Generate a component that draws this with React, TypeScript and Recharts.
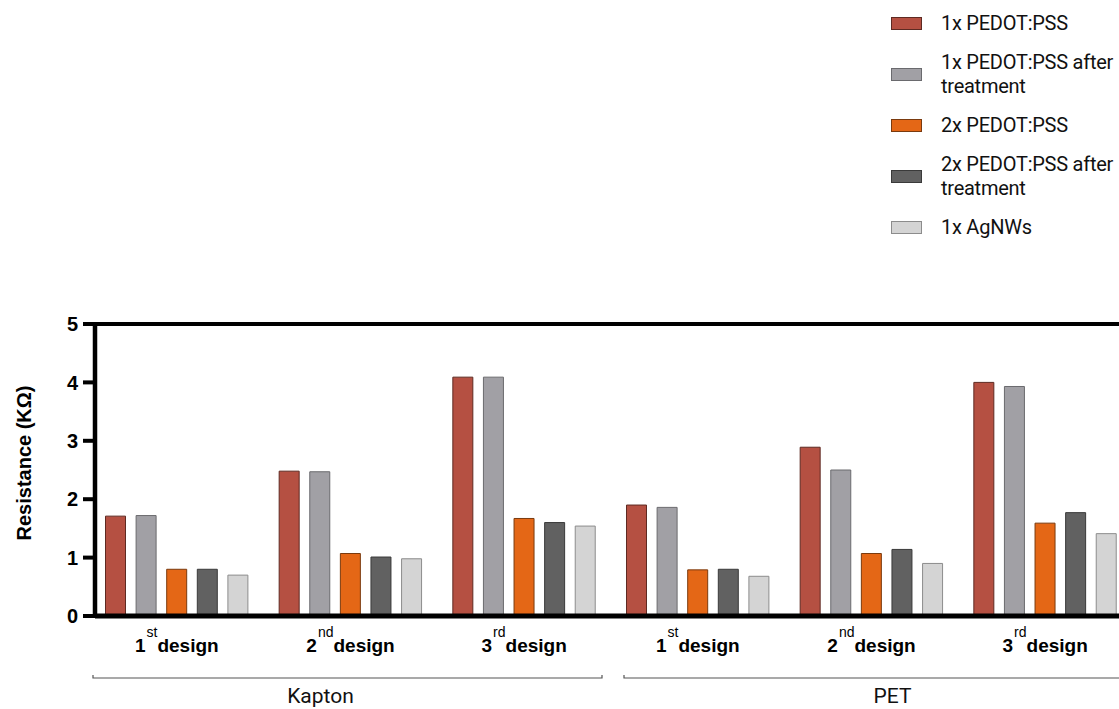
import React from 'react';
import { BarChart, Bar, XAxis, YAxis, ReferenceLine, Legend, Label } from 'recharts';

// Sample categories
const designNumbers = ['1', '2', '3', '1', '2', '3'];
const designSuffixes = ['st', 'nd', 'rd', 'st', 'nd', 'rd'];
const substrates = ['Kapton', 'Kapton', 'Kapton', 'PET', 'PET', 'PET'];

// Resistance values (kΩ) per series, one value per category
const pedot1x = [1.71, 2.48, 4.09, 1.9, 2.89, 4.0];
const pedot1xTreated = [1.72, 2.47, 4.09, 1.86, 2.5, 3.93];
const pedot2x = [0.8, 1.07, 1.67, 0.79, 1.07, 1.59];
const pedot2xTreated = [0.8, 1.01, 1.6, 0.8, 1.14, 1.77];
const agnws = [0.7, 0.98, 1.54, 0.68, 0.9, 1.41];

const seriesNames = [
  '1x PEDOT:PSS',
  '1x PEDOT:PSS after treatment',
  '2x PEDOT:PSS',
  '2x PEDOT:PSS after treatment',
  '1x AgNWs',
];
const seriesValues = [pedot1x, pedot1xTreated, pedot2x, pedot2xTreated, agnws];
const seriesFills = ['#B55042', '#A1A0A5', '#E46716', '#616161', '#D4D4D4'];
const seriesStrokes = ['#5E2A22', '#6A6A6E', '#7A3A0E', '#3A3A3A', '#8C8C8C'];

const yTicks = [0, 1, 2, 3, 4, 5];

const data = substrates.map((substrate, i) => {
  const row: Record<string, string | number> = {
    key: `${substrate}-${designNumbers[i]}`,
    substrate,
  };
  seriesValues.forEach((vals, s) => {
    row[`s${s}`] = vals[i];
  });
  return row;
});

const lightFont = "Roboto, 'Liberation Sans', sans-serif";
const boldFont = "'Liberation Sans', Arial, sans-serif";

function DesignTick(props: any) {
  const { x, y, payload } = props;
  const i = payload.index;
  return (
    <text
      x={x}
      y={y + 36}
      textAnchor="middle"
      fontFamily={boldFont}
      fontWeight="bold"
      fontSize={19}
      fill="#000"
    >
      <tspan>{designNumbers[i]}</tspan>
      <tspan fontSize={14} fontWeight="normal" dx={1} dy={-15}>
        {designSuffixes[i]}
      </tspan>
      <tspan dy={15}>design</tspan>
    </text>
  );
}

function SubstrateTick(props: any) {
  const { x, y, payload, visibleTicksCount } = props;
  const half = payload.offset ?? 0;
  const isFirst = payload.index === 0;
  const isLast = payload.index === (visibleTicksCount ?? 2) - 1;
  const left = x - half + (isFirst ? 3 : 13);
  const right = x + half - (isLast ? 0 : 9);
  const labelShift = isFirst ? -30 : 21;
  const by = y + 12;
  return (
    <g>
      <path
        d={`M${left},${by - 3}V${by}H${right}V${by - 3}`}
        fill="none"
        stroke="#555"
        strokeWidth={1.2}
      />
      <text
        x={x + labelShift}
        y={y + 37}
        textAnchor="middle"
        fontFamily={lightFont}
        fontSize={21}
        fill="#111"
      >
        {payload.value}
      </text>
    </g>
  );
}

function LegendContent() {
  return (
    <div
      style={{
        paddingTop: 11,
        fontFamily: lightFont,
        fontSize: 20,
        letterSpacing: '-0.25px',
        color: '#111',
      }}
    >
      {seriesNames.map((name, k) => {
        const words = name.split(' ');
        const lines =
          words[words.length - 1] === 'treatment'
            ? [words.slice(0, -1).join(' '), 'treatment']
            : [name];
        return (
          <div
            key={name}
            style={{ display: 'flex', alignItems: 'center', marginBottom: 15, lineHeight: '24px' }}
          >
            <div
              style={{
                marginLeft: 11,
                marginRight: 19,
                width: 31,
                height: 13,
                boxSizing: 'border-box',
                background: seriesFills[k],
                border: `1px solid ${seriesStrokes[k]}`,
                flexShrink: 0,
              }}
            />
            <div style={{ whiteSpace: 'nowrap' }}>
              {lines.map((ln) => (
                <div key={ln}>{ln}</div>
              ))}
            </div>
          </div>
        );
      })}
    </div>
  );
}

export default function App() {
  return (
    <div
      style={{
        position: 'fixed',
        left: 0,
        top: 0,
        width: 1119,
        height: 709,
        overflow: 'hidden',
        background: '#fff',
      }}
    >
      <BarChart
        width={1132}
        height={709}
        data={data}
        margin={{ top: 324, right: 0, bottom: 0, left: 0 }}
        barCategoryGap={15.5}
        barGap={10.6}
      >
        <XAxis
          dataKey="key"
          interval={0}
          padding={{ left: -5, right: 0 }}
          axisLine={{ stroke: '#000', strokeWidth: 5 }}
          tickLine={false}
          tickSize={0}
          tickMargin={0}
          height={50}
          tick={<DesignTick />}
        />
        <XAxis
          xAxisId="group"
          dataKey="substrate"
          allowDuplicatedCategory={false}
          interval={0}
          padding={{ left: -5, right: 0 }}
          axisLine={false}
          tickLine={false}
          tickSize={0}
          tickMargin={0}
          height={43}
          tick={<SubstrateTick />}
        />
        <YAxis
          width={95}
          domain={[0, 5]}
          ticks={yTicks}
          interval={0}
          allowDataOverflow
          axisLine={{ stroke: '#000', strokeWidth: 4.5 }}
          tickLine={{ stroke: '#000', strokeWidth: 4 }}
          tickSize={12}
          tickMargin={5}
          tick={{ fill: '#000', fontSize: 20, fontWeight: 'bold', fontFamily: boldFont }}
        >
          <Label
            content={(p: any) => {
              const vb = p.viewBox || { x: 0, y: 324, width: 95, height: 292 };
              const cx = vb.x + 23.5;
              const cy = vb.y + vb.height / 2 - 7;
              return (
                <text
                  x={cx}
                  y={cy}
                  transform={`rotate(-90 ${cx} ${cy})`}
                  textAnchor="middle"
                  dominantBaseline="central"
                  fontFamily={boldFont}
                  fontWeight="bold"
                  fontSize={20}
                  fill="#000"
                >
                  Resistance (KΩ)
                </text>
              );
            }}
          />
        </YAxis>
        <ReferenceLine y={5} stroke="#000" strokeWidth={4} ifOverflow="visible" />
        <Legend
          layout="vertical"
          align="center"
          verticalAlign="middle"
          wrapperStyle={{ top: 0, left: 880, width: 239 }}
          content={<LegendContent />}
        />
        {seriesNames.map((name, s) => (
          <Bar
            key={name}
            dataKey={`s${s}`}
            name={name}
            fill={seriesFills[s]}
            stroke={seriesStrokes[s]}
            strokeWidth={1}
            isAnimationActive={false}
          />
        ))}
      </BarChart>
    </div>
  );
}
